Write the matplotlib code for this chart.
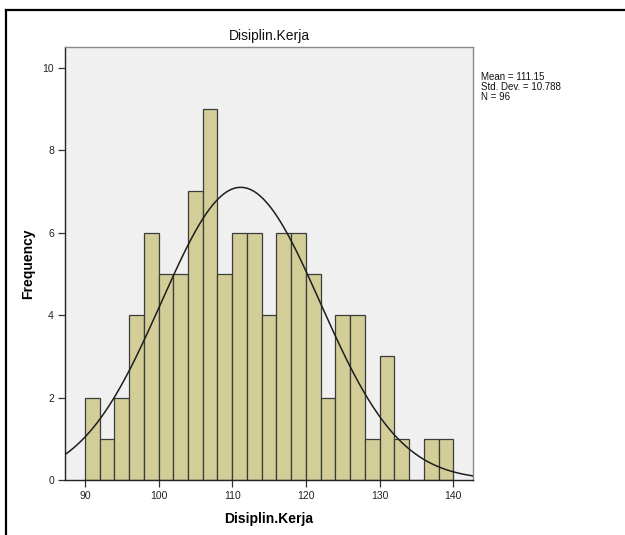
import numpy as np
import matplotlib
matplotlib.use("Agg")
import matplotlib.pyplot as plt
from matplotlib.lines import Line2D

plt.rcParams['font.family'] = ['Liberation Sans', 'DejaVu Sans']

# histogram bins (width 2) and counts
bin_edges = [90, 92, 94, 96, 98, 100, 102, 104, 106, 108, 110, 112, 114,
             116, 118, 120, 122, 124, 126, 128, 130, 132, 134, 136, 138, 140]
counts = [2, 1, 2, 4, 6, 5, 5, 7, 9, 5, 6, 6, 4, 6, 6, 5, 2, 4, 4, 1, 3, 1, 0, 1, 1]
mean = 111.15
std = 10.788
n = 96
x_ticks = [90, 100, 110, 120, 130, 140]
y_ticks = [0, 2, 4, 6, 8, 10]

fig = plt.figure(figsize=(6.25, 5.35), dpi=100)
ax = fig.add_axes([0.104, 0.1028, 0.653, 0.809])
ax.set_facecolor('#F0F0F0')

lefts = bin_edges[:-1]
widths = np.diff(bin_edges)
ax.bar(lefts, counts, width=widths, align='edge', color='#D3CE98',
       edgecolor='#3C3C3C', linewidth=0.9, zorder=2)

# normal curve scaled to counts
xs = np.linspace(87.3, 142.7, 400)
bw = bin_edges[1] - bin_edges[0]
ys = n * bw / (std * np.sqrt(2 * np.pi)) * np.exp(-0.5 * ((xs - mean) / std) ** 2)
ax.plot(xs, ys, color='#1E1E1E', linewidth=1.1, zorder=3)

ax.set_xlim(87.3, 142.7)
ax.set_ylim(0, 10.5)
ax.set_xticks(x_ticks)
ax.set_yticks(y_ticks)
ax.tick_params(axis='both', direction='out', length=5, width=0.9,
               labelsize=7.5, color='#333333', labelcolor='#222222', pad=3)

for s in ['top', 'right']:
    ax.spines[s].set_color('#8A8A8A')
    ax.spines[s].set_linewidth(1.0)
for s in ['left', 'bottom']:
    ax.spines[s].set_color('#222222')
    ax.spines[s].set_linewidth(1.0)

ax.set_title('Disiplin.Kerja', fontsize=10, pad=5, color='#111111')
ax.set_xlabel('Disiplin.Kerja', fontsize=10, fontweight='bold', labelpad=8)
ax.set_ylabel('Frequency', fontsize=10, fontweight='bold', labelpad=5)

fig.text(0.769, 0.866, 'Mean = %.2f\nStd. Dev. = %.3f\nN = %d' % (mean, std, n),
         fontsize=7, va='top', ha='left', linespacing=1.0, color='#111111')

# outer document frame
fig.add_artist(Line2D([0.0096, 1.0], [0.981, 0.981], color='black', linewidth=1.6,
                      transform=fig.transFigure))
fig.add_artist(Line2D([0.0096, 0.0096], [0.0, 0.981], color='black', linewidth=1.6,
                      transform=fig.transFigure))

fig.savefig('out.png', dpi=100)
